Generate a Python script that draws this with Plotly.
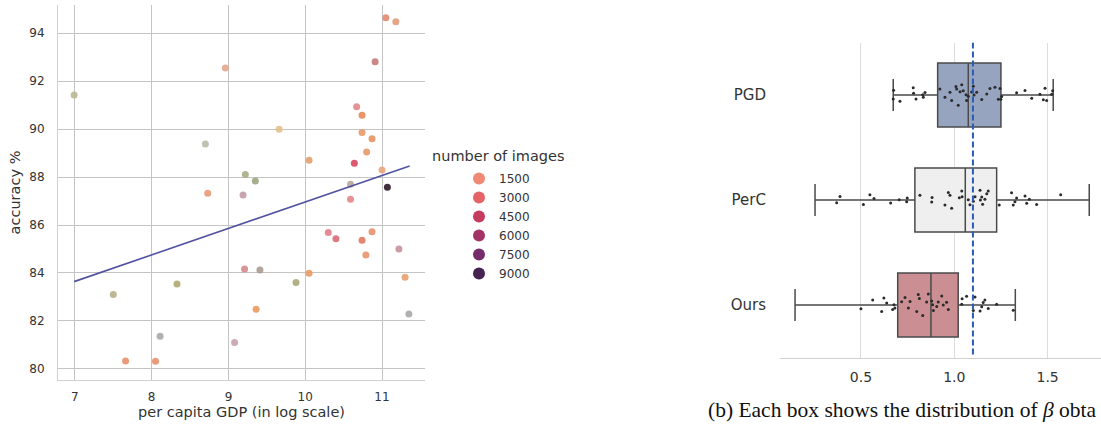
import plotly.graph_objects as go

# ---------------- data: left scatter ----------------
gdp_log = [6.99, 8.96, 8.70, 9.66, 9.22, 9.35, 8.73, 9.19, 10.05, 11.05,
           11.18, 10.91, 10.67, 10.74, 10.74, 10.87, 10.80, 10.64, 11.00, 10.59,
           11.07, 10.59, 10.30, 10.40, 10.74, 10.87, 10.79, 11.22, 11.30, 11.35,
           9.21, 9.41, 10.05, 9.88, 8.33, 7.50, 9.36, 8.11, 9.08, 7.66, 8.05]
accuracy = [91.42, 92.54, 89.38, 89.99, 88.11, 87.83, 87.32, 87.25, 88.70, 94.64,
            94.47, 92.80, 90.93, 90.57, 89.86, 89.60, 89.04, 88.57, 88.29, 87.70,
            87.57, 87.07, 85.69, 85.43, 85.36, 85.72, 84.75, 85.00, 83.82, 82.29,
            84.17, 84.13, 83.99, 83.60, 83.54, 83.10, 82.49, 81.36, 81.10, 80.33, 80.32]
reg_x = [6.99, 11.36]
reg_y = [83.64, 88.46]
legend_counts = ["1500", "3000", "4500", "6000", "7500", "9000"]

# ---------------- data: right box plot ----------------
methods = ["PGD", "PerC", "Ours"]
q1 = [0.911, 0.789, 0.697]
median = [1.075, 1.059, 0.875]
q3 = [1.250, 1.227, 1.021]
lower = [0.673, 0.254, 0.147]
upper = [1.530, 1.723, 1.327]
beta_ref = 1.10

beta_pgd = [0.673, 0.675, 0.709, 0.780, 0.782, 0.795, 0.831, 0.834, 0.843, 0.923,
            0.950, 0.977, 0.986, 1.009, 1.013, 1.021, 1.031, 1.040, 1.048, 1.063,
            1.066, 1.075, 1.093, 1.102, 1.106, 1.120, 1.147, 1.174, 1.191, 1.218,
            1.236, 1.245, 1.249, 1.254, 1.334, 1.379, 1.415, 1.459, 1.477, 1.486,
            1.495, 1.522, 1.527]
beta_perc = [0.370, 0.388, 0.513, 0.548, 0.570, 0.659, 0.705, 0.745, 0.748, 0.816,
             0.879, 0.881, 0.950, 0.968, 0.977, 0.986, 1.027, 1.040, 1.042, 1.075,
             1.084, 1.102, 1.111, 1.138, 1.140, 1.147, 1.152, 1.164, 1.174, 1.182,
             1.241, 1.307, 1.316, 1.325, 1.334, 1.379, 1.388, 1.402, 1.441, 1.570]
beta_ours = [0.500, 0.563, 0.611, 0.623, 0.638, 0.670, 0.677, 0.682, 0.718, 0.736,
             0.754, 0.763, 0.799, 0.807, 0.813, 0.831, 0.852, 0.861, 0.879, 0.884,
             0.888, 0.906, 0.914, 0.933, 0.941, 0.959, 0.968, 1.040, 1.042, 1.066,
             1.102, 1.111, 1.138, 1.155, 1.147, 1.164, 1.182, 1.227, 1.316]
caption = "(b) Each box shows the distribution of <i>β</i> obta"

# ---------------- styles ----------------
point_colors = ['#bdb892', '#e3a68e', '#b9bba8', '#e3c08a', '#a8ad86', '#9aa582', '#e89a74',
                '#c09aa8', '#e3a06c', '#e08a70', '#e39a7a', '#c47a78', '#e08a8a', '#e8885a',
                '#e89a68', '#e8925e', '#e8986a', '#d84860', '#eaa47c', '#b8a898', '#2a1a28',
                '#e6858a', '#e0808a', '#d86a78', '#e07a60', '#e8906a', '#e8946a', '#c8909a',
                '#e8a06c', '#a8a8a8', '#d48a8a', '#a89a90', '#e89a60', '#a8a878', '#b0a870',
                '#b8b08a', '#e89a60', '#a8a8a8', '#c8a0b0', '#e8906a', '#e8906a']
legend_colors = ['#ef8a74', '#e46468', '#c63b60', '#a33466', '#742c6a', '#45224f']
box_fills = ['#97a4c0', '#efefef', '#cb8f93']
W, H = 1101, 427
FONT = "DejaVu Sans"
TXT = "#333333"

fig = go.Figure()

# scatter points
fig.add_trace(go.Scatter(x=gdp_log, y=accuracy, mode="markers",
                         marker=dict(size=7, color=point_colors, opacity=0.9, line=dict(width=0)),
                         showlegend=False, xaxis="x", yaxis="y"))
# regression line
fig.add_trace(go.Scatter(x=reg_x, y=reg_y, mode="lines",
                         line=dict(color="#5252a2", width=1.6),
                         showlegend=False, xaxis="x", yaxis="y"))
# legend entries
for name, col in zip(legend_counts, legend_colors):
    fig.add_trace(go.Scatter(x=[None], y=[None], mode="markers", name=name,
                             marker=dict(size=8, color=col), showlegend=True,
                             xaxis="x", yaxis="y"))

# box plots (precomputed)
for i, m in enumerate(methods):
    fig.add_trace(go.Box(y=[m], q1=[q1[i]], median=[median[i]], q3=[q3[i]],
                         lowerfence=[lower[i]], upperfence=[upper[i]],
                         orientation="h", width=0.61, whiskerwidth=0.5,
                         fillcolor=box_fills[i], line=dict(color="#4a4a4a", width=1.5),
                         boxpoints=False, showlegend=False, xaxis="x2", yaxis="y2"))

# strip points
for m, vals in zip(methods, [beta_pgd, beta_perc, beta_ours]):
    fig.add_trace(go.Box(x=vals, y=[m] * len(vals), orientation="h", width=0.61,
                         boxpoints="all", jitter=0.4, pointpos=0,
                         fillcolor="rgba(0,0,0,0)", line=dict(color="rgba(0,0,0,0)", width=0),
                         marker=dict(color="#2b2b2b", size=3),
                         showlegend=False, xaxis="x2", yaxis="y2"))

# reference dashed line
fig.add_trace(go.Scatter(x=[beta_ref, beta_ref], y=[-0.5, 2.5], mode="lines",
                         line=dict(color="#2b5cb5", width=2, dash="6px,3px"),
                         showlegend=False, xaxis="x2", yaxis="y3"))

def px_x(p):
    return p / W

def px_y(p):
    return 1 - p / H

fig.update_layout(
    width=W, height=H,
    margin=dict(l=0, r=0, t=0, b=0, autoexpand=False),
    paper_bgcolor="white", plot_bgcolor="white",
    font=dict(family=FONT, color=TXT, size=12),
    boxmode="overlay",
    xaxis=dict(domain=[px_x(58), px_x(425)], range=[6.78, 11.56], automargin=False,
               tickvals=[7, 8, 9, 10, 11], showgrid=True, gridcolor="#c4c4c4", gridwidth=1,
               zeroline=False, showline=True, linecolor="#d0d0d0", linewidth=1,
               ticks="outside", ticklen=6, tickcolor="rgba(0,0,0,0)",
               tickfont=dict(size=12, color=TXT),
               title=dict(text="per capita GDP (in log scale)", font=dict(size=14.5, color=TXT), standoff=3)),
    yaxis=dict(domain=[px_y(380), px_y(5)], range=[79.54, 95.17], automargin=False,
               tickvals=[80, 82, 84, 86, 88, 90, 92, 94], showgrid=True, gridcolor="#c4c4c4",
               gridwidth=1, zeroline=False, showline=True, linecolor="#d0d0d0", linewidth=1,
               ticks="outside", ticklen=10, tickcolor="rgba(0,0,0,0)",
               tickfont=dict(size=12, color=TXT),
               title=dict(text="accuracy %", font=dict(size=14.5, color=TXT), standoff=5)),
    xaxis2=dict(domain=[px_x(780), 1.0], range=[0.0664, 1.786], anchor="y2", automargin=False,
                tickvals=[0.5, 1.0, 1.5], ticktext=["0.5", "1.0", "1.5"],
                showgrid=True, gridcolor="#dcdcdc", gridwidth=1, zeroline=False,
                showline=True, linecolor="#d0d0d0", linewidth=1.2,
                ticks="outside", ticklen=7, tickcolor="rgba(0,0,0,0)",
                tickfont=dict(size=14, color=TXT)),
    yaxis2=dict(domain=[px_y(357.5), px_y(42.5)], anchor="x2", type="category", automargin=False,
                categoryorder="array", categoryarray=methods, range=[2.5, -0.5],
                showgrid=False, zeroline=False, showline=False,
                ticks="outside", ticklen=10, tickcolor="rgba(0,0,0,0)",
                tickfont=dict(size=15, color=TXT)),
    yaxis3=dict(domain=[px_y(357.5), px_y(42.5)], anchor="x2", overlaying="y2",
                range=[2.5, -0.5], visible=False, automargin=False),
    legend=dict(x=px_x(459), y=px_y(164), xanchor="left", yanchor="top",
                font=dict(size=12, color=TXT), bgcolor="rgba(0,0,0,0)",
                itemsizing="constant", tracegroupgap=0),
    annotations=[
        dict(text="number of images", x=px_x(498), y=px_y(156), xref="paper", yref="paper",
             xanchor="center", yanchor="middle", showarrow=False,
             font=dict(size=14.5, color=TXT, family=FONT)),
        dict(text=caption, x=px_x(706), y=px_y(410), xref="paper", yref="paper",
             xanchor="left", yanchor="middle", showarrow=False,
             font=dict(size=21.5, color="#111111", family="Liberation Serif")),
    ],
)

fig.write_html("out.html", config={"displayModeBar": False},
               post_script="document.body.style.margin='0px';")
